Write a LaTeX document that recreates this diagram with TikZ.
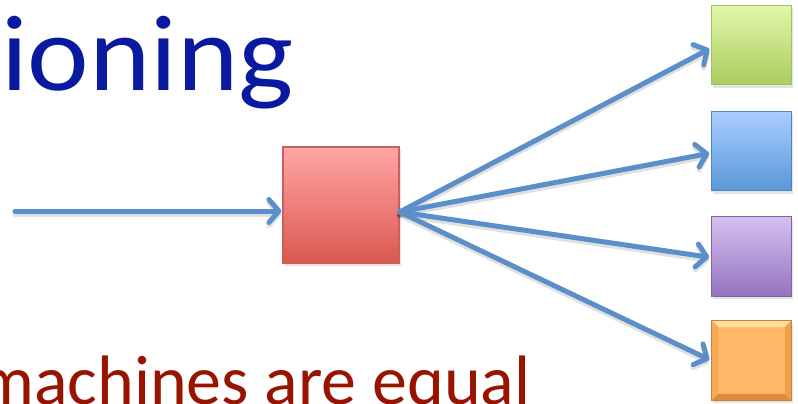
\documentclass[tikz,border=0pt]{standalone}
\usepackage{fontspec}
\setmainfont{Carlito}
\usetikzlibrary{arrows.meta,shadows}
\definecolor{titleblue}{RGB}{10,26,160}
\definecolor{textred}{RGB}{150,20,0}
\definecolor{arrowblue}{RGB}{91,143,201}
\definecolor{rtop}{RGB}{255,166,166}
\definecolor{rbot}{RGB}{218,88,78}
\definecolor{rline}{RGB}{205,95,90}
\definecolor{gtop}{RGB}{226,246,170}
\definecolor{gbot}{RGB}{170,205,95}
\definecolor{gline}{RGB}{160,195,90}
\definecolor{btop}{RGB}{170,206,255}
\definecolor{bbot}{RGB}{88,152,215}
\definecolor{bline}{RGB}{80,130,190}
\definecolor{ptop}{RGB}{212,192,240}
\definecolor{pbot}{RGB}{148,116,190}
\definecolor{pline}{RGB}{128,100,162}
\definecolor{ofill}{RGB}{255,184,102}
\definecolor{oline}{RGB}{200,130,60}
\definecolor{obtop}{RGB}{255,222,160}
\definecolor{obright}{RGB}{240,160,75}
\definecolor{obleft}{RGB}{245,170,85}
\definecolor{obbot}{RGB}{220,140,60}
\tikzset{
  box/.style={draw, line width=1.2pt, minimum width=#1, minimum height=#1, inner sep=0pt,
    drop shadow={opacity=0.22, shadow xshift=1.5pt, shadow yshift=-3pt}},
  flow/.style={draw=arrowblue, line width=5pt, line cap=round,
    -{Straight Barb[length=10pt,width=23pt,round]}},
  flowshadow/.style={draw=black, opacity=0.12, line width=5pt, line cap=round,
    -{Straight Barb[length=10pt,width=23pt,round]}, transform canvas={yshift=-3pt}},
}
\begin{document}
\begin{tikzpicture}[x=1pt,y=-1pt]
\useasboundingbox (0,0) rectangle (798,404);
% texts
\node[anchor=base west, inner sep=0pt, text=titleblue, font=\fontsize{108}{120}\selectfont] (title) at (1,90) {\scalebox{1.08}[1]{ioning}};
\node[anchor=base west, inner sep=0pt, text=textred, font=\fontsize{70}{80}\selectfont] (bottom) at (-22,404) {machines are equal};
% central box
\node[box=116pt, top color=rtop, bottom color=rbot, draw=rline] (rbox) at (341,205) {};
% right boxes
\node[box=79.5pt, top color=gtop, bottom color=gbot, draw=gline] (g) at (751.5,45) {};
\node[box=79.5pt, top color=btop, bottom color=bbot, draw=bline] (b) at (751.5,151) {};
\node[box=79.5pt, top color=ptop, bottom color=pbot, draw=pline] (p) at (751.5,256.5) {};
\node[box=79.5pt, fill=ofill, draw=oline] (o) at (751.5,360.5) {};
% bevel of orange box
\fill[obtop] (o.north west) -- (o.north east) -- ([xshift=-7pt,yshift=-7pt]o.north east) -- ([xshift=7pt,yshift=-7pt]o.north west) -- cycle;
\fill[obright] (o.north east) -- (o.south east) -- ([xshift=-7pt,yshift=7pt]o.south east) -- ([xshift=-7pt,yshift=-7pt]o.north east) -- cycle;
\fill[obleft] (o.north west) -- (o.south west) -- ([xshift=7pt,yshift=7pt]o.south west) -- ([xshift=7pt,yshift=-7pt]o.north west) -- cycle;
\fill[obbot] (o.south west) -- (o.south east) -- ([xshift=-7pt,yshift=7pt]o.south east) -- ([xshift=7pt,yshift=7pt]o.south west) -- cycle;
\draw[line width=1.2pt, oline] (o.north west) rectangle (o.south east);
% connectors
\coordinate (in) at (15,211);
\coordinate (inend) at ([yshift=-6pt]rbox.west);
\coordinate (fan) at ([yshift=-7pt]rbox.east);
\foreach \s in {flowshadow, flow}{
  \draw[\s, shorten >=1pt] (in) -- (inend);
  \draw[\s, shorten >=2pt] (fan) -- ([yshift=-3pt]g.west);
  \draw[\s, shorten >=2pt] (fan) -- ([yshift=-2pt]b.west);
  \draw[\s, shorten >=2pt] (fan) -- ([yshift=-1pt]p.west);
  \draw[\s, shorten >=2pt] (fan) -- (o.west);
}
\end{tikzpicture}
\end{document}
